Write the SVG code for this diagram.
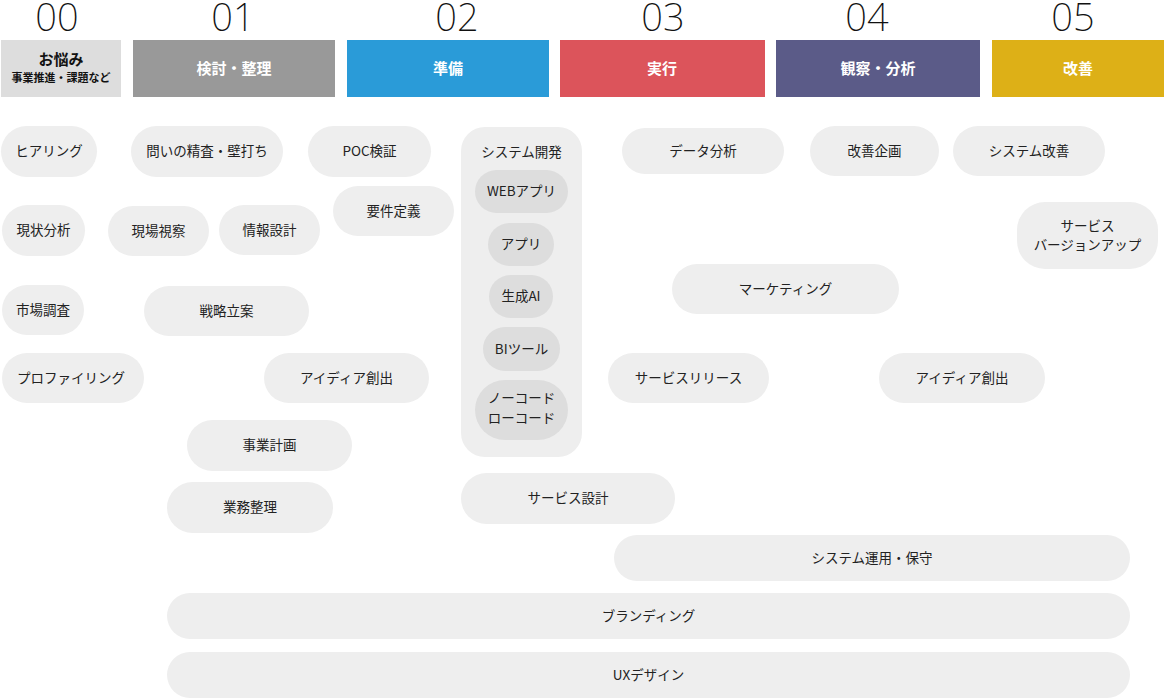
<svg xmlns="http://www.w3.org/2000/svg" width="1164" height="699" viewBox="0 0 1164 699">
<style>
.num{font-family:"Noto Sans","Liberation Sans",sans-serif;font-weight:200;font-size:38px;fill:#111;text-anchor:middle}
.hd{font-family:"Noto Sans CJK JP","Noto Sans",sans-serif;font-weight:700;font-size:15px;fill:#fff;text-anchor:middle;dominant-baseline:central}
.pill{fill:#eeeeee}
.inner{fill:#dddddd}
.t{font-family:"Noto Sans CJK JP","Noto Sans",sans-serif;font-size:13.5px;fill:#222;text-anchor:middle;dominant-baseline:central;transform:translateY(-1.5px)}
</style>
<rect width="1164" height="699" fill="#ffffff"/>
<g id="headers">
  <g id="h00"><text class="num" x="57" y="31">00</text><rect x="1" y="40" width="120" height="57" fill="#dddddd"/>
    <text class="hd" x="61" y="58.5" style="fill:#111;font-size:15px">お悩み</text>
    <text class="hd" x="61" y="76.5" style="fill:#111;font-size:11px">事業推進・課題など</text></g>
  <g id="h01"><text class="num" x="233" y="31">01</text><rect x="133" y="40" width="202" height="57" fill="#999999"/><text class="hd" x="234" y="67.5">検討・整理</text></g>
  <g id="h02"><text class="num" x="457" y="31">02</text><rect x="347" y="40" width="202" height="57" fill="#2a9bd8"/><text class="hd" x="448" y="67.5">準備</text></g>
  <g id="h03"><text class="num" x="663" y="31">03</text><rect x="560" y="40" width="205" height="57" fill="#dc545b"/><text class="hd" x="662" y="67.5">実行</text></g>
  <g id="h04"><text class="num" x="867" y="31">04</text><rect x="776" y="40" width="204" height="57" fill="#5b5b88"/><text class="hd" x="878" y="67.5">観察・分析</text></g>
  <g id="h05"><text class="num" x="1073" y="31">05</text><rect x="992" y="40" width="172" height="57" fill="#ddb017"/><text class="hd" x="1078" y="67.5">改善</text></g>
</g>
<g id="nodes">
  <g id="n-hearing"><rect class="pill" x="1" y="126" width="96" height="51" rx="25.5"/><text class="t" x="49" y="151.5">ヒアリング</text></g>
  <g id="n-toi"><rect class="pill" x="131" y="126" width="152" height="51" rx="25.5"/><text class="t" x="207" y="151.5">問いの精査・壁打ち</text></g>
  <g id="n-poc"><rect class="pill" x="308" y="126" width="123" height="51" rx="25.5"/><text class="t" x="369.5" y="151.5">POC検証</text></g>
  <g id="n-yoken"><rect class="pill" x="333" y="186" width="121" height="50" rx="25"/><text class="t" x="393.5" y="211">要件定義</text></g>
  <g id="n-genjo"><rect class="pill" x="2" y="205" width="83" height="51" rx="25.5"/><text class="t" x="43.5" y="230.5">現状分析</text></g>
  <g id="n-genba"><rect class="pill" x="108" y="206" width="101" height="50" rx="25"/><text class="t" x="158.5" y="231">現場視察</text></g>
  <g id="n-joho"><rect class="pill" x="219" y="205" width="101" height="50" rx="25"/><text class="t" x="269.5" y="230">情報設計</text></g>
  <g id="n-shijo"><rect class="pill" x="2" y="285" width="82" height="50" rx="25"/><text class="t" x="43" y="310">市場調査</text></g>
  <g id="n-senryaku"><rect class="pill" x="144" y="286" width="165" height="50" rx="25"/><text class="t" x="226.5" y="311">戦略立案</text></g>
  <g id="n-profiling"><rect class="pill" x="2" y="353" width="142" height="50" rx="25"/><text class="t" x="71" y="378">プロファイリング</text></g>
  <g id="n-idea1"><rect class="pill" x="264" y="353" width="165" height="50" rx="25"/><text class="t" x="346.5" y="378">アイディア創出</text></g>
  <g id="n-jigyo"><rect class="pill" x="187" y="420" width="165" height="51" rx="25.5"/><text class="t" x="269.5" y="445.5">事業計画</text></g>
  <g id="n-gyomu"><rect class="pill" x="167" y="482" width="166" height="51" rx="25.5"/><text class="t" x="250" y="507.5">業務整理</text></g>
  <g id="n-sysdev">
    <rect class="pill" x="461" y="127" width="121" height="330" rx="24"/>
    <text class="t" x="521.5" y="152">システム開発</text>
    <g id="n-webapp"><rect class="inner" x="475" y="170" width="93" height="43" rx="21.5"/><text class="t" x="521.5" y="191.5">WEBアプリ</text></g>
    <g id="n-app"><rect class="inner" x="488" y="223" width="66" height="43" rx="21.5"/><text class="t" x="521" y="244.5">アプリ</text></g>
    <g id="n-genai"><rect class="inner" x="489" y="275" width="64" height="43" rx="21.5"/><text class="t" x="521" y="296.5">生成AI</text></g>
    <g id="n-bi"><rect class="inner" x="483" y="327" width="77" height="44" rx="22"/><text class="t" x="521.5" y="349">BIツール</text></g>
    <g id="n-nocode"><rect class="inner" x="475" y="380" width="93" height="60" rx="30"/><text class="t" x="521.5" y="398">ノーコード</text><text class="t" x="521.5" y="418">ローコード</text></g>
  </g>
  <g id="n-service-design"><rect class="pill" x="461" y="473" width="214" height="51" rx="25.5"/><text class="t" x="568" y="498.5">サービス設計</text></g>
  <g id="n-data"><rect class="pill" x="622" y="128" width="162" height="46" rx="23"/><text class="t" x="703" y="151">データ分析</text></g>
  <g id="n-kaizen-kikaku"><rect class="pill" x="810" y="126" width="129" height="50" rx="25"/><text class="t" x="874.5" y="151">改善企画</text></g>
  <g id="n-sys-kaizen"><rect class="pill" x="953" y="126" width="152" height="50" rx="25"/><text class="t" x="1029" y="151">システム改善</text></g>
  <g id="n-version"><rect class="pill" x="1017" y="202" width="141" height="67" rx="28"/><text class="t" x="1087.5" y="226">サービス</text><text class="t" x="1087.5" y="245">バージョンアップ</text></g>
  <g id="n-marketing"><rect class="pill" x="672" y="264" width="227" height="50" rx="25"/><text class="t" x="785.5" y="289">マーケティング</text></g>
  <g id="n-release"><rect class="pill" x="608" y="353" width="161" height="50" rx="25"/><text class="t" x="688.5" y="378">サービスリリース</text></g>
  <g id="n-idea2"><rect class="pill" x="879" y="353" width="166" height="50" rx="25"/><text class="t" x="962" y="378">アイディア創出</text></g>
  <g id="n-unyo"><rect class="pill" x="614" y="535" width="516" height="46" rx="23"/><text class="t" x="872" y="558">システム運用・保守</text></g>
  <g id="n-branding"><rect class="pill" x="167" y="593" width="963" height="46" rx="23"/><text class="t" x="648.5" y="616">ブランディング</text></g>
  <g id="n-ux"><rect class="pill" x="167" y="652" width="963" height="46" rx="23"/><text class="t" x="648.5" y="675">UXデザイン</text></g>
</g>
<g id="connectors"></g>
</svg>
